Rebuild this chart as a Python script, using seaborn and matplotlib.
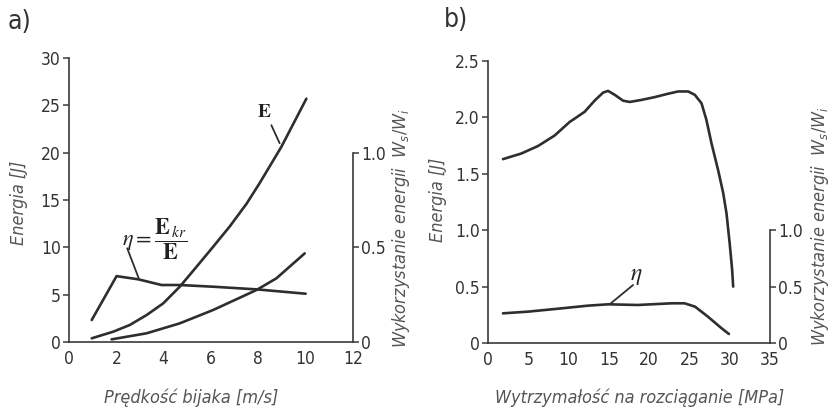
import matplotlib
matplotlib.use("Agg")
import matplotlib.pyplot as plt
import seaborn as sns
import pandas as pd

# ---------------- data: panel a ----------------
a_v_E = [0.96, 1.87, 2.57, 3.28, 3.98, 4.68, 5.39, 6.09, 6.79, 7.5, 8.06, 8.97, 10.03]
a_E = [0.39, 1.09, 1.8, 2.85, 4.08, 5.84, 7.95, 10.06, 12.2, 14.6, 16.8, 20.6, 25.7]
a_v_Ekr = [1.8, 3.28, 4.68, 6.09, 7.92, 8.76, 9.96]
a_Ekr = [0.28, 0.92, 1.97, 3.38, 5.49, 6.72, 9.36]
a_v_eta = [0.96, 2.01, 2.93, 3.91, 4.68, 6.09, 7.92, 10.0]
a_eta = [0.116, 0.348, 0.331, 0.301, 0.301, 0.292, 0.278, 0.255]

# ---------------- data: panel b ----------------
b_R_E = [1.86, 4.14, 6.2, 8.28, 10.14, 10.77, 12.0, 13.25, 14.29, 14.9, 15.73, 16.77, 17.6, 19.05,
         20.7, 22.36, 23.6, 24.84, 25.67, 26.5, 27.1, 27.74, 28.57, 29.19, 29.6, 30.0, 30.3, 30.43]
b_E = [1.63, 1.68, 1.746, 1.84, 1.96, 1.99, 2.05, 2.15, 2.22, 2.235, 2.20, 2.148, 2.137, 2.155,
       2.18, 2.21, 2.23, 2.23, 2.20, 2.125, 1.98, 1.77, 1.53, 1.33, 1.15, 0.88, 0.65, 0.50]
b_R_eta = [1.86, 4.97, 9.11, 12.4, 14.9, 18.6, 22.8, 24.4, 25.7, 27.3, 29.0, 29.9]
b_eta = [0.263, 0.278, 0.307, 0.331, 0.343, 0.337, 0.352, 0.352, 0.322, 0.233, 0.130, 0.08]

a_xticks = [0, 2, 4, 6, 8, 10, 12]
a_yticks = [0, 5, 10, 15, 20, 25, 30]
b_xticks = [0, 5, 10, 15, 20, 25, 30, 35]
b_yticks = [0, 0.5, 1.0, 1.5, 2.0, 2.5]
b_yticklabels = ["0", "0.5", "1.0", "1.5", "2.0", "2.5"]
r_ticks = [0, 0.5, 1.0]
r_ticklabels = ["0", "0.5", "1.0"]

sns.set_theme(style="white")
plt.rcParams["font.family"] = ["DejaVu Sans"]
plt.rcParams["font.stretch"] = "condensed"
plt.rcParams["mathtext.fontset"] = "dejavusans"

LINE = "#2e2e2e"
AX = "#3a3a3a"
LBL = "#555555"
TICKFS = 12.5
LABFS = 13
LW = 1.9

fig = plt.figure(figsize=(8.32, 4.16), dpi=100)
axa = fig.add_axes([69 / 832, 74 / 416, 284 / 832, 284 / 416])
axb = fig.add_axes([488 / 832, 73 / 416, 282 / 832, 282 / 416])


def style_axes(ax, xlim, ylim, xticks, yticks, yticklabels=None):
    ax.set_xlim(*xlim)
    ax.set_ylim(*ylim)
    ax.set_xticks(xticks)
    ax.set_yticks(yticks)
    if yticklabels is not None:
        ax.set_yticklabels(yticklabels)
    for s in ["top", "right"]:
        ax.spines[s].set_visible(False)
    for s in ["left", "bottom"]:
        ax.spines[s].set_color(AX)
        ax.spines[s].set_linewidth(1.2)
    ax.tick_params(direction="out", length=4, width=1.1, color=AX,
                   labelsize=TICKFS, labelcolor="#333333", pad=2)
    for t in ax.get_xticklabels() + ax.get_yticklabels():
        t.set_fontstretch("condensed")
    ax.set_xlabel("")
    ax.set_ylabel("")


def right_axis(ax, ymax):
    ax2 = ax.twinx()
    ax2.set_ylim(0, ymax)
    ax2.set_yticks(r_ticks)
    ax2.set_yticklabels(r_ticklabels)
    for s in ["top", "left", "bottom"]:
        ax2.spines[s].set_visible(False)
    ax2.spines["right"].set_bounds(0, 1.0)
    ax2.spines["right"].set_color(AX)
    ax2.spines["right"].set_linewidth(1.2)
    ax2.tick_params(direction="out", length=4, width=1.1, color=AX,
                    labelsize=TICKFS, labelcolor="#333333", pad=2)
    return ax2


# ---------------- panel a ----------------
dEa = pd.DataFrame({"v": a_v_E, "E": a_E})
dKa = pd.DataFrame({"v": a_v_Ekr, "E": a_Ekr})
sns.lineplot(data=dEa, x="v", y="E", ax=axa, color=LINE, lw=LW, sort=False)
sns.lineplot(data=dKa, x="v", y="E", ax=axa, color=LINE, lw=LW, sort=False)
style_axes(axa, (0, 12), (0, 30), a_xticks, a_yticks)
axa2 = right_axis(axa, 1.5)
dHa = pd.DataFrame({"v": a_v_eta, "eta": a_eta})
sns.lineplot(data=dHa, x="v", y="eta", ax=axa2, color=LINE, lw=LW, sort=False)
axa2.set_ylabel("")

axa.text(8.27, 24.3, r"$\mathbf{E}$", fontsize=14, color="#222222", ha="center", va="center",
         math_fontfamily="stix")
axa.plot([8.55, 8.9], [22.9, 21.0], color=LINE, lw=1.3)
axa.text(2.25, 10.9, r"$\eta = \dfrac{\mathbf{E}_{\,kr}}{\mathbf{E}}$", fontsize=16,
         color="#222222", ha="left", va="center", math_fontfamily="stix")
axa.plot([2.46, 2.95], [9.9, 6.7], color=LINE, lw=1.3)

# ---------------- panel b ----------------
dEb = pd.DataFrame({"R": b_R_E, "E": b_E})
sns.lineplot(data=dEb, x="R", y="E", ax=axb, color=LINE, lw=LW, sort=False)
style_axes(axb, (0, 35), (0, 2.5), b_xticks, b_yticks, b_yticklabels)
axb2 = right_axis(axb, 2.5)
dHb = pd.DataFrame({"R": b_R_eta, "eta": b_eta})
sns.lineplot(data=dHb, x="R", y="eta", ax=axb2, color=LINE, lw=LW, sort=False)
axb2.set_ylabel("")
axb.text(18.4, 0.60, r"$\eta$", fontsize=17, color="#222222", ha="center", va="center",
         math_fontfamily="stix")
axb.plot([18.0, 15.1], [0.514, 0.343], color=LINE, lw=1.3)

# ---------------- labels ----------------
lab = dict(fontsize=LABFS, color=LBL, style="italic", fontstretch="condensed")
fig.text(191 / 832, 1 - 398 / 416, "Prędkość bijaka [m/s]", ha="center", va="center", **lab)
fig.text(19 / 832, 1 - 203 / 416, "Energia [J]", ha="center", va="center", rotation=90, **lab)
fig.text(401 / 832, 1 - 228 / 416, r"Wykorzystanie energii  $W_s/W_i$", ha="center", va="center",
         rotation=90, **lab)
fig.text(640 / 832, 1 - 398 / 416, "Wytrzymałość na rozciąganie [MPa]", ha="center", va="center", **lab)
fig.text(438 / 832, 1 - 200 / 416, "Energia [J]", ha="center", va="center", rotation=90, **lab)
fig.text(820 / 832, 1 - 226 / 416, r"Wykorzystanie energii  $W_s/W_i$", ha="center", va="center",
         rotation=90, **lab)

fig.text(8 / 832, 1 - 22 / 416, "a)", fontsize=19, color="#333333", ha="left", va="center",
         fontstretch="condensed")
fig.text(444 / 832, 1 - 20 / 416, "b)", fontsize=19, color="#333333", ha="left", va="center",
         fontstretch="condensed")

fig.savefig("out.png", dpi=100, facecolor="white")
